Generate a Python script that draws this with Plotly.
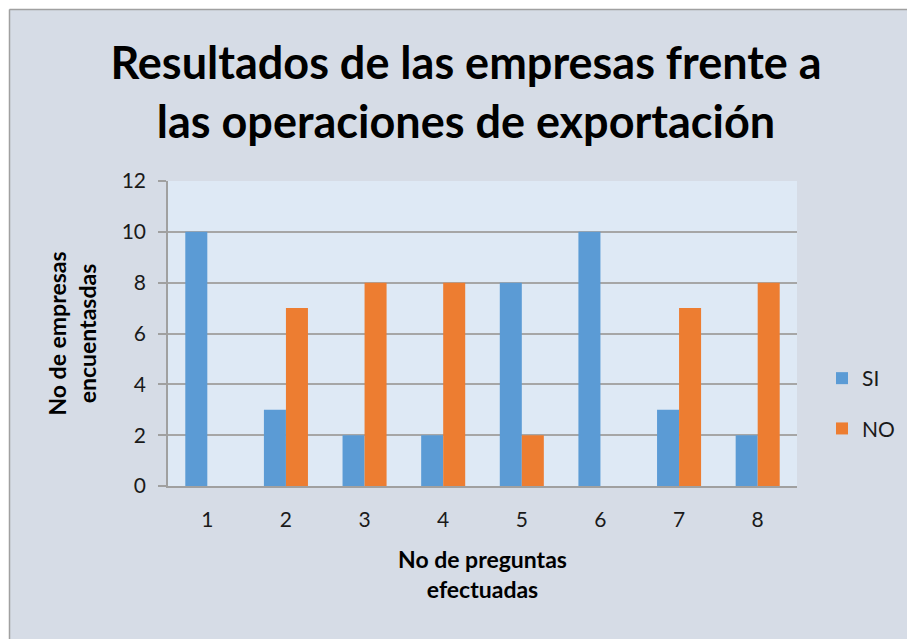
import plotly.graph_objects as go

categories = ["1", "2", "3", "4", "5", "6", "7", "8"]
si_values = [10, 3, 2, 2, 8, 10, 3, 2]
no_values = [0, 7, 8, 8, 2, 0, 7, 8]
y_ticks = [0, 2, 4, 6, 8, 10, 12]

FONT = "Lato"
L, R, T, B = 168, 797, 181, 486
W, H = 907, 639

def px_x(p):
    return (p - L) / (R - L)

def px_y(p):
    return (B - p) / (B - T)

fig = go.Figure()
fig.add_trace(go.Bar(name="SI", x=categories, y=si_values, legendgroup="si",
                     marker=dict(color="#5b9bd5", line=dict(width=0))))
fig.add_trace(go.Bar(name="NO", x=categories, y=no_values, legendgroup="no",
                     marker=dict(color="#ed7d31", line=dict(width=0))))

shapes = [
    dict(type="rect", xref="paper", yref="paper", x0=px_x(-5), x1=px_x(9), y0=px_y(-5), y1=px_y(H + 5),
         fillcolor="white", line=dict(width=0), layer="above"),
    dict(type="rect", xref="paper", yref="paper", x0=px_x(-5), x1=px_x(W + 5), y0=px_y(-5), y1=px_y(9),
         fillcolor="white", line=dict(width=0), layer="above"),
    dict(type="line", xref="paper", yref="paper", x0=px_x(9.5), x1=px_x(9.5), y0=px_y(9.5), y1=px_y(H + 5),
         line=dict(color="#a0a0a0", width=1.5)),
    dict(type="line", xref="paper", yref="paper", x0=px_x(9.5), x1=px_x(W + 5), y0=px_y(9.5), y1=px_y(9.5),
         line=dict(color="#a0a0a0", width=1.5)),
]

fig.update_layout(
    width=W, height=H,
    margin=dict(l=L, r=W - R, t=T, b=H - B, autoexpand=False),
    paper_bgcolor="#d6dce6",
    plot_bgcolor="#dee9f5",
    barmode="group",
    bargap=0.44,
    bargroupgap=0,
    font=dict(family=FONT, color="#000000"),
    title=dict(
        text="<b>Resultados de las empresas frente a<br>las operaciones de exportación</b>",
        x=466 / W, xref="container", xanchor="center",
        y=1 - 79 / H, yanchor="top",
        font=dict(family=FONT, size=45, color="#000000"),
    ),
    xaxis=dict(
        showgrid=False, showline=True, linecolor="#a0a0a0", linewidth=1.5,
        ticks="", tickfont=dict(size=21, color="#1a1a1a"), ticklabelstandoff=14,
        title=dict(text="<b>No de preguntas<br>efectuadas</b>", font=dict(size=23), standoff=22),
    ),
    yaxis=dict(
        range=[0, 12], tickvals=y_ticks, showgrid=True, gridcolor="#a6a6a6", gridwidth=1.5,
        showline=True, linecolor="#a0a0a0", linewidth=1.5,
        ticks="outside", ticklen=8, tickcolor="#a0a0a0", tickwidth=1.5,
        tickfont=dict(size=21, color="#1a1a1a"), ticklabelstandoff=8,
        title=dict(text="<b>No de empresas<br>encuentasdas</b>", font=dict(size=23), standoff=19),
        zeroline=False,
    ),
    legend=dict(
        x=px_x(822), xanchor="left", y=px_y(358), yanchor="top",
        font=dict(size=21, color="#1a1a1a"), bgcolor="rgba(0,0,0,0)",
        tracegroupgap=20, itemwidth=30, traceorder="grouped",
    ),
    shapes=shapes,
)

fig.write_html("out.html", config={"displayModeBar": False},
               post_script="document.body.style.margin='0';")
